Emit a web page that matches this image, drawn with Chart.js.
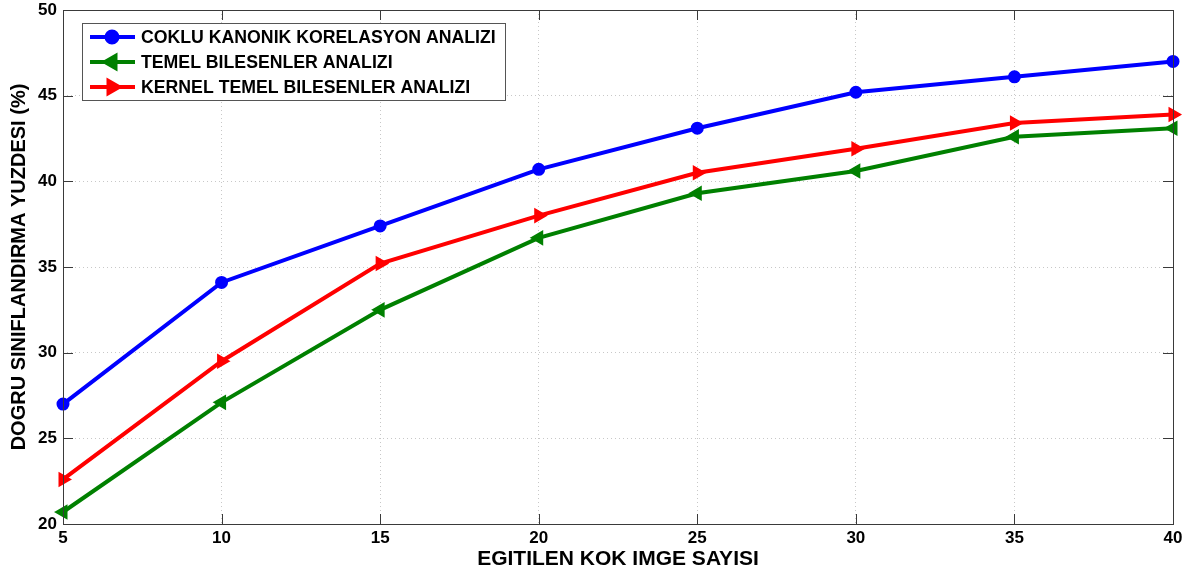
<!DOCTYPE html>
<html><head><meta charset="utf-8">
<script src="https://cdn.jsdelivr.net/npm/chart.js@4/dist/chart.umd.min.js"></script>
<style>html,body{margin:0;padding:0;background:#fff}#wrap{width:1201px;height:575px;position:relative}</style>
</head><body><div id="wrap"><canvas id="c" width="1201" height="575"></canvas></div>
<script>
const categories = [5, 10, 15, 20, 25, 30, 35, 40];
const ckkaValues = [27.0, 34.1, 37.4, 40.7, 43.1, 45.2, 46.1, 47.0];
const tbaValues  = [20.7, 27.1, 32.5, 36.7, 39.3, 40.6, 42.6, 43.1];
const ktbaValues = [22.6, 29.5, 35.2, 38.0, 40.5, 41.9, 43.4, 43.9];
const seriesNames = ['COKLU KANONIK KORELASYON ANALIZI', 'TEMEL BILESENLER ANALIZI', 'KERNEL TEMEL BILESENLER ANALIZI'];
const xTicks = [5, 10, 15, 20, 25, 30, 35, 40];
const yTicks = [20, 25, 30, 35, 40, 45, 50];
const xTitle = 'EGITILEN KOK IMGE SAYISI';
const yTitle = 'DOGRU SINIFLANDIRMA YUZDESI (%)';

const FONT = '"Liberation Sans", Arial, sans-serif';
const toXY = vals => categories.map((x, i) => ({x, y: vals[i]}));

const frame = {
  id: 'frame',
  afterDraw(chart) {
    const {ctx, chartArea: a, scales} = chart;
    ctx.save();
    ctx.strokeStyle = '#3a3a3a';
    ctx.lineWidth = 1;
    ctx.strokeRect(a.left + 0.5, a.top + 0.5, a.right - a.left, a.bottom - a.top);
    const tl = 10;
    ctx.beginPath();
    xTicks.forEach(v => {
      const px = Math.round(scales.x.getPixelForValue(v)) + 0.5;
      ctx.moveTo(px, a.bottom); ctx.lineTo(px, a.bottom - tl);
      ctx.moveTo(px, a.top); ctx.lineTo(px, a.top + tl);
    });
    yTicks.forEach(v => {
      const py = Math.round(scales.y.getPixelForValue(v)) + 0.5;
      ctx.moveTo(a.left, py); ctx.lineTo(a.left + tl, py);
      ctx.moveTo(a.right, py); ctx.lineTo(a.right - tl, py);
    });
    ctx.stroke();

    // legend
    const bx = 82, by = 23, bw = 423, bh = 77;
    ctx.fillStyle = '#fff';
    ctx.fillRect(bx, by, bw, bh);
    ctx.strokeStyle = '#555';
    ctx.lineWidth = 1;
    ctx.strokeRect(bx + 0.5, by + 0.5, bw, bh);
    ctx.font = 'bold 17.7px ' + FONT;
    ctx.textBaseline = 'middle';
    chart.data.datasets.forEach((ds, i) => {
      const yy = by + 14 + i * 25;
      ctx.strokeStyle = ds.borderColor;
      ctx.lineWidth = 4;
      ctx.beginPath(); ctx.moveTo(90, yy); ctx.lineTo(135, yy); ctx.stroke();
      ctx.fillStyle = ds.backgroundColor;
      ctx.strokeStyle = ds.borderColor;
      Chart.helpers.drawPoint(ctx, {pointStyle: ds.pointStyle, rotation: ds.rotation, radius: ds.pointRadius, borderWidth: 2}, 112, yy);
      ctx.fillStyle = '#000';
      ctx.fillText(ds.label, 141, yy + 1);
    });
    ctx.restore();
  }
};

new Chart(document.getElementById('c'), {
  type: 'line',
  data: {
    datasets: [
      {label: seriesNames[0], data: toXY(ckkaValues), borderColor: '#0000ff', backgroundColor: '#0000ff', pointStyle: 'circle', pointRadius: 5.5, rotation: 0},
      {label: seriesNames[1], data: toXY(tbaValues), borderColor: '#008000', backgroundColor: '#008000', pointStyle: 'triangle', pointRadius: 7, rotation: -90},
      {label: seriesNames[2], data: toXY(ktbaValues), borderColor: '#ff0000', backgroundColor: '#ff0000', pointStyle: 'triangle', pointRadius: 7, rotation: 90}
    ].map(d => Object.assign(d, {borderWidth: 4, pointBorderWidth: 2, tension: 0, clip: false}))
  },
  options: {
    responsive: false,
    animation: false,
    layout: {padding: {left: 0, right: 28, top: 10, bottom: 0}},
    plugins: {legend: {display: false}, tooltip: {enabled: false}},
    scales: {
      x: {
        type: 'linear', min: 5, max: 40,
        afterBuildTicks: s => { s.ticks = xTicks.map(v => ({value: v})); },
        afterFit: s => { s.height = 51; s.paddingLeft = 0; s.paddingRight = 0; },
        grid: {color: '#c8c8c8', drawTicks: false, tickLength: 0},
        border: {display: false, dash: [1, 3]},
        ticks: {color: '#000', font: {family: FONT, size: 17, weight: 'bold'}, padding: 4, maxRotation: 0},
        title: {display: true, text: xTitle, color: '#000', font: {family: FONT, size: 21, weight: 'bold'}, padding: {top: 0, bottom: 3}}
      },
      y: {
        min: 20, max: 50,
        afterBuildTicks: s => { s.ticks = yTicks.map(v => ({value: v})); },
        afterFit: s => { s.width = 63; s.paddingTop = 0; s.paddingBottom = 0; },
        grid: {color: '#c8c8c8', drawTicks: false, tickLength: 0},
        border: {display: false, dash: [1, 3]},
        ticks: {color: '#000', font: {family: FONT, size: 17, weight: 'bold'}, padding: 6},
        title: {display: true, text: yTitle, color: '#000', font: {family: FONT, size: 20, weight: 'bold'}, padding: {top: 7, bottom: 0}}
      }
    }
  },
  plugins: [frame]
});
</script></body></html>
